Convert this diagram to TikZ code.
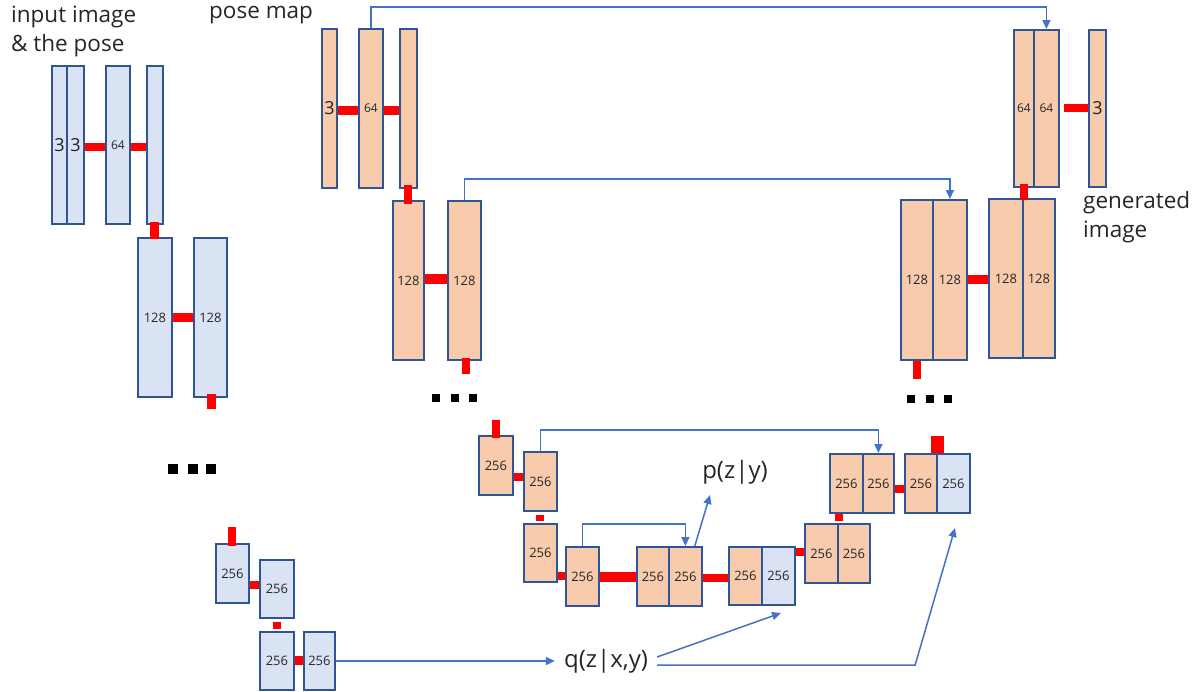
\documentclass[tikz,border=0pt]{standalone}
\usepackage{fontspec}
\setmainfont{Open Sans}
\usetikzlibrary{arrows.meta}
\definecolor{bfill}{HTML}{DAE3F3}
\definecolor{ofill}{HTML}{F8CBAD}
\definecolor{edgeblue}{HTML}{2F5597}
\definecolor{arrowblue}{HTML}{4472C4}
\definecolor{txt}{HTML}{262626}
\begin{document}
\begin{tikzpicture}[x=1pt,y=-1pt,
  layerbox/.style={draw=edgeblue, line width=1.8pt, inner sep=0pt, anchor=north west,
    font=\fontsize{13}{13}\selectfont, text=txt},
  bl/.style={layerbox, fill=bfill},
  ob/.style={layerbox, fill=ofill},
  sz/.style 2 args={minimum width=#1pt, minimum height=#2pt},
  bignum/.style={font=\fontsize{18}{18}\selectfont},
  smallnum/.style={font=\fontsize{12}{12}\selectfont},
  rb/.style={draw=red, line width=8pt},
  ba/.style={draw=arrowblue, line width=1.5pt, -{Triangle[length=9pt,width=8pt]}},
  lbl/.style={font=\fontsize{22.5}{29}\selectfont, text=txt, inner sep=0pt},
  formula/.style={font=\fontsize{24}{24}\selectfont, text=txt, inner ysep=0pt},
  dotsq/.style={fill=black, minimum size=#1pt, inner sep=0pt},
]
\useasboundingbox (0,0) rectangle (1202,691);

% labels
\node[lbl, align=left, anchor=north west] (inp) at (11,6) {input image\\\& the pose};
\node[lbl, anchor=north west] (pm) at (209,6) {pose map};
\node[lbl, align=left, anchor=north west] (gen) at (1083,191) {generated\\image};
\node[formula, inner xsep=0pt] (p) at (735,472) {p(z|y)};
\node[formula, inner xsep=9pt] (q) at (606,661) {q(z|x,y)};

% blue encoder
\node[bl, sz={15}{158}, bignum] (A1) at (51,65) {3};
\node[bl, sz={17}{158}, bignum] (A2) at (66,65) {3};
\node[bl, sz={24}{158}, smallnum] (A3) at (105,65) {64};
\node[bl, sz={16}{158}] (A4) at (146,65) {};
\node[bl, sz={34}{159}] (B1) at (137,237) {128};
\node[bl, sz={33}{159}] (B2) at (193,237) {128};
\node[bl, sz={33}{59}] (C1) at (215,543) {256};
\node[bl, sz={34}{58}] (C2) at (259,559) {256};
\node[bl, sz={34}{58}] (C3) at (259,631) {256};
\node[bl, sz={31}{58}] (C4) at (303,631) {256};

% orange encoder
\node[ob, sz={15}{159}, bignum] (D1) at (321,28) {3};
\node[ob, sz={24}{159}, smallnum] (D2) at (358,28) {64};
\node[ob, sz={17}{159}] (D3) at (399,28) {};
\node[ob, sz={31}{159}] (F1) at (392,200) {128};
\node[ob, sz={33}{159}] (F2) at (447,200) {128};

% decoder top right
\node[ob, sz={20}{157}, smallnum] (E1) at (1013,29) {64};
\node[ob, sz={25}{157}, smallnum] (E2) at (1033,29) {64};
\node[ob, sz={17}{157}, bignum] (E3) at (1088,29) {3};
\node[ob, sz={32}{160}] (G1) at (900,199) {128};
\node[ob, sz={34}{160}] (G2) at (932,199) {128};
\node[ob, sz={34}{159}] (H1) at (988,198) {128};
\node[ob, sz={32}{159}] (H2) at (1022,198) {128};

% bottom part
\node[ob, sz={34}{59}] (I1) at (478,435) {256};
\node[ob, sz={33}{59}] (I2) at (523,451) {256};
\node[ob, sz={33}{58}] (I3) at (523,523) {256};
\node[ob, sz={33}{59}] (J) at (565,546) {256};
\node[ob, sz={32}{59}] (K1) at (636,546) {256};
\node[ob, sz={33}{59}] (K2) at (668,546) {256};
\node[ob, sz={33}{58}] (L1) at (728,546) {256};
\node[bl, sz={33}{58}] (L2) at (761,546) {256};
\node[ob, sz={33}{59}] (M1) at (804,523) {256};
\node[ob, sz={32}{59}] (M2) at (837,523) {256};
\node[ob, sz={33}{59}] (N1) at (829,453) {256};
\node[ob, sz={31}{59}] (N2) at (862,453) {256};
\node[ob, sz={32}{59}] (O1) at (904,453) {256};
\node[bl, sz={33}{59}] (O2) at (936,453) {256};

% dots
\node[dotsq=10] (l1) at (173,469) {};
\node[dotsq=10] (l2) at (193,469) {};
\node[dotsq=10] (l3) at (211,469) {};
\node[dotsq=8] (m1) at (436,398) {};
\node[dotsq=8] (m2) at (455,398) {};
\node[dotsq=8] (m3) at (473,398) {};
\node[dotsq=8] (r1) at (911,399) {};
\node[dotsq=8] (r2) at (930,399) {};
\node[dotsq=8] (r3) at (948,399) {};

% red connections
\draw[rb] (A2.east |- 0,147) -- (A3.west |- 0,147);
\draw[rb] (A3.east |- 0,147) -- (A4.west |- 0,147);
\draw[rb, line width=9pt, shorten <=-3pt, shorten >=-2pt] (A4.south) -- (B1.north);
\draw[rb, line width=9pt] (B1.east |- 0,317) -- (B2.west |- 0,317);
\draw[rb, line width=9pt] ([xshift=1.5pt,yshift=4pt]B2.south) -- ++(0,15);
\draw[rb] ([yshift=-3pt]C1.north) -- ++(0,-19);
\draw[rb] (C1.east |- 0,585) -- (C2.west |- 0,585);
\draw[rb, shorten <=3pt, shorten >=2pt] (C2.south) -- (C3.north);
\draw[rb, line width=9pt] (C3.east |- 0,660) -- (C4.west |- 0,660);
\draw[rb, line width=9pt] (D1.east |- 0,110) -- (D2.west |- 0,110);
\draw[rb, line width=9pt] (D2.east |- 0,110) -- (D3.west |- 0,110);
\draw[rb, shorten <=-4pt, shorten >=-4pt] (D3.south) -- (F1.north);
\draw[rb, line width=10pt] (F1.east |- 0,279) -- (F2.west |- 0,279);
\draw[rb] ([xshift=1.5pt,yshift=3pt]F2.south) -- ++(0,16);
\draw[rb, shorten <=4pt] (E2.east |- 0,108) -- (E3.west |- 0,108);
\draw[rb, shorten <=-4pt, shorten >=-2pt] (E1.south) -- (E1.south |- H1.north);
\draw[rb, line width=9pt] (G2.east |- 0,279) -- (H1.west |- 0,279);
\draw[rb] (G1.south) -- ++(0,18);
\draw[rb] ([yshift=-3pt]I1.north) -- ++(0,-18);
\draw[rb] (I1.east |- 0,477) -- (I2.west |- 0,477);
\draw[rb, shorten <=3pt, shorten >=2pt] (I2.south) -- (I3.north);
\draw[rb] (I3.east |- 0,576) -- (J.west |- 0,576);
\draw[rb, line width=10pt] (J.east |- 0,577) -- (K1.west |- 0,577);
\draw[rb] (K2.east |- 0,578) -- (L1.west |- 0,578);
\draw[rb] (L2.east |- 0,552) -- (M1.west |- 0,552);
\draw[rb, shorten <=2pt] (M1.north east) -- (M1.north east |- N1.south);
\draw[rb] (N2.east |- 0,489) -- (O1.west |- 0,489);
\draw[rb, line width=13pt] (O1.north east) -- ++(0,-17);

% blue skip connections
\draw[ba] (D2.north) -- ++(0,-21) -| (E2.north);
\draw[ba] (F2.north) -- ++(0,-21) -| (G2.north);
\draw[ba] (I2.north) -- ++(0,-21) -| (N2.north);
\draw[ba] (J.north) -- ++(0,-22) -| (K2.north);

% latent arrows
\coordinate (qa) at (781,613);
\coordinate (qb) at (955,528);
\coordinate (pa) at (710,495);
\draw[ba] (C4.east |- q.west) -- (q.west);
\draw[ba] ([yshift=4pt]q.east) -- (qa);
\draw[ba] ([yshift=-4pt]q.east) -- ++(258,0) -- (qb);
\draw[ba] ([xshift=-8pt]K2.north east) -- (pa);
\end{tikzpicture}
\end{document}
